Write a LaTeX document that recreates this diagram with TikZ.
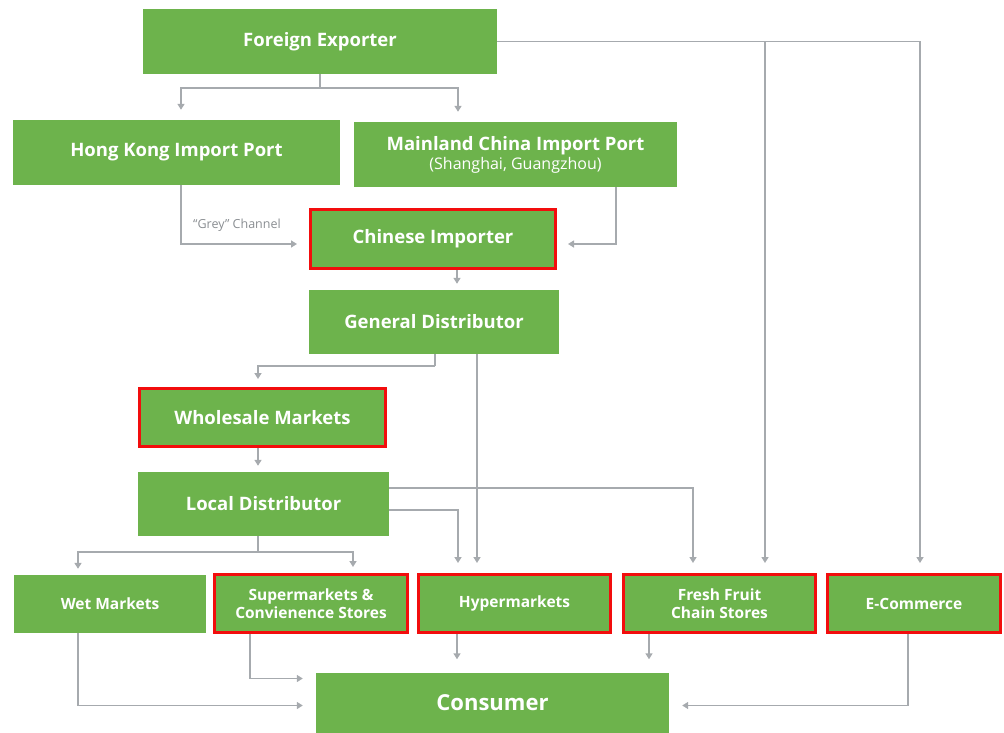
\documentclass[tikz,border=0pt]{standalone}
\usepackage{fontspec}
\setmainfont{Open Sans}
\usetikzlibrary{arrows.meta,calc}
\definecolor{boxgreen}{HTML}{6DB34C}
\definecolor{lngrey}{HTML}{A6AAAE}
\definecolor{lblgrey}{HTML}{8A8E92}
\definecolor{redline}{HTML}{F20D0D}
\tikzset{
  box/.style={fill=boxgreen, draw=none, text=white, font=\bfseries\fontsize{18.5}{21}\selectfont, align=center, inner sep=0pt},
  redbox/.style={box, draw=redline, line width=3pt},
  small/.style={font=\bfseries\fontsize{15.5}{18.5}\selectfont},
  ln/.style={draw=lngrey, line width=1.5pt},
  arr/.style={ln, -{Triangle[length=6pt,width=7pt]}, shorten >=10pt},
}
\begin{document}
\begin{tikzpicture}[x=1pt,y=-1pt]
\useasboundingbox (0,0) rectangle (1004,733);
% nodes
\node[box, minimum width=354, minimum height=65] (fe) at (320,41.5) {Foreign Exporter};
\node[box, minimum width=327, minimum height=65] (hk) at (176.5,152.5) {Hong Kong Import Port};
\node[box, minimum width=323, minimum height=65] (mc) at (515.5,154.5) {Mainland China Import Port\\[-2pt]{\mdseries\fontsize{16}{18}\selectfont (Shanghai, Guangzhou)}};
\node[redbox, minimum width=245, minimum height=59] (ci) at (433,239) {Chinese Importer};
\node[box, minimum width=250, minimum height=64] (gd) at (434,322) {General Distributor};
\node[redbox, minimum width=246, minimum height=58] (wm) at (262.5,417.5) {Wholesale Markets};
\node[box, minimum width=251, minimum height=64] (ld) at (263.5,504) {Local Distributor};
\node[box, small, minimum width=192, minimum height=58] (wt) at (110,604) {Wet Markets};
\node[redbox, small, minimum width=193, minimum height=58] (su) at (311,603.5) {Supermarkets \&\\Convienence Stores};
\node[redbox, small, minimum width=192, minimum height=58] (hy) at (514.5,603.5) {Hypermarkets};
\node[redbox, small, minimum width=192, minimum height=58] (fr) at (719.5,603.5) {Fresh Fruit\\Chain Stores};
\node[redbox, small, minimum width=173, minimum height=58] (ec) at (914,603.5) {E-Commerce};
\node[box, font=\bfseries\fontsize{22}{24}\selectfont, minimum width=353, minimum height=60] (co) at (492.5,702.5) {Consumer};
\node[text=lblgrey, font=\fontsize{12.5}{14}\selectfont, inner sep=0pt] (gc) at (237,225) {“Grey” Channel};
% connectors
\coordinate (feJ) at ($(fe.south)+(0,14)$);
\draw[ln] (fe.south) -- (feJ);
\draw[arr] (feJ) -| ([xshift=4.5]hk.north);
\draw[arr] (feJ) -| ([xshift=-57.5]mc.north);
\coordinate (ecTop) at ([xshift=6]ec.north);
\coordinate (frTopB) at ([xshift=45.5]fr.north);
\draw[arr] (fe.east) -| (ecTop);
\draw[arr] (fe.east -| frTopB) -- (frTopB);
\draw[arr, shorten >=12pt] ([xshift=4.5]hk.south) |- ([yshift=-5]ci.west);
\draw[arr, shorten >=11pt] ([xshift=100.5]mc.south) |- ([yshift=-5]ci.east);
\coordinate (ciS) at ([xshift=24]ci.south);
\draw[arr, shorten >=6pt] (ciS) -- (ciS |- gd.north);
\coordinate (gdJ) at ($([xshift=1]gd.south)+(0,12)$);
\draw[ln] ([xshift=1]gd.south) -- (gdJ);
\draw[arr, shorten >=8pt] (gdJ) -| ([xshift=-4.5]wm.north);
\coordinate (gdS) at ([xshift=43]gd.south);
\draw[arr] (gdS) -- (gdS |- hy.north);
\coordinate (wmS) at ([xshift=-4.5]wm.south);
\draw[arr, shorten >=6pt] (wmS) -- (wmS |- ld.north);
\draw[arr] ([yshift=16]ld.east) -| ([xshift=-26.5]fr.north);
\draw[arr] ([yshift=-6]ld.east) -| ([xshift=-56.5]hy.north);
\coordinate (ldJ) at ($([xshift=-5.5]ld.south)+(0,16)$);
\draw[ln] ([xshift=-5.5]ld.south) -- (ldJ);
\draw[arr, shorten >=6pt] (ldJ) -| ([xshift=-32]wt.north);
\draw[arr, shorten >=6pt] (ldJ) -| ([xshift=42]su.north);
\draw[arr, shorten >=13pt] ([xshift=-32]wt.south) |- ([yshift=-3]co.west);
\draw[arr, shorten >=13pt] ([xshift=-61]su.south) |- ([yshift=24]co.west);
\coordinate (hyS) at ([xshift=-57.5]hy.south);
\draw[arr, shorten >=13pt] (hyS) -- (hyS |- co.north);
\coordinate (frS) at ([xshift=-70.5]fr.south);
\draw[arr, shorten >=13pt] (frS) -- (frS |- co.north);
\draw[arr, shorten >=13pt] ([xshift=-6]ec.south) |- ([yshift=-3]co.east);
\end{tikzpicture}
\end{document}
